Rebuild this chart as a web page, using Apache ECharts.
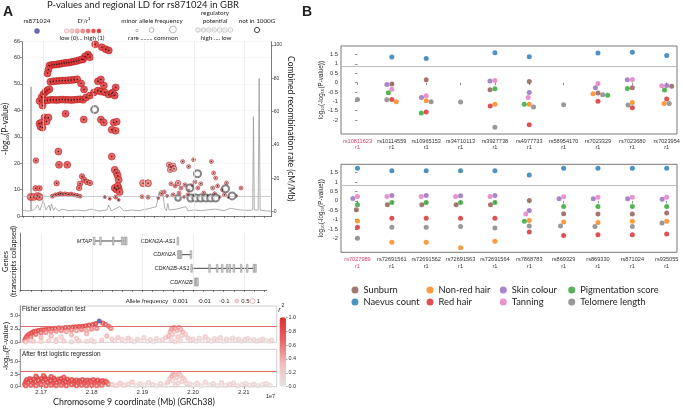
<!DOCTYPE html>
<html><head><meta charset="utf-8">
<script src="https://cdn.jsdelivr.net/npm/echarts@6/dist/echarts.min.js"></script>
<style>html,body{margin:0;padding:0;background:#fff}#c{width:683px;height:408px}</style>
</head><body><div id="c"></div><script>
// ---------- Panel A: regional association (pos Mb, -log10 P, r2, MAF) ----------
const ldPoints = [
 [21.8030,65.0,.95,.4],[21.8163,63.9,.95,.4],[21.8241,63.1,.95,.4],[21.8300,62.7,.95,.4],
 [21.7887,61.2,.95,.4],[21.7828,60.5,.95,.4],[21.7926,60.1,.95,.4],[21.7788,59.3,.95,.4],
 [21.7118,57.0,.95,.4],[21.7167,57.2,.95,.4],[21.7217,57.3,.95,.4],[21.7266,57.4,.95,.4],[21.7315,57.6,.95,.4],[21.7365,57.7,.95,.4],[21.7414,57.9,.95,.4],
 [21.7463,58.0,.95,.4],[21.7512,58.1,.95,.4],[21.7562,58.3,.95,.4],[21.7611,58.5,.95,.4],[21.7660,58.7,.95,.4],[21.7709,59.0,.95,.4],[21.7759,59.3,.95,.4],
 [21.7099,55.5,.9,.4],[21.7079,54.0,.9,.4],
 [21.7138,50.8,.9,.4],[21.7197,51.0,.9,.4],[21.7256,51.1,.9,.4],[21.7315,51.2,.9,.4],[21.7374,51.3,.9,.4],[21.7433,51.3,.9,.4],[21.7493,51.4,.9,.4],
 [21.7552,51.5,.9,.4],[21.7611,51.6,.9,.4],[21.7670,51.8,.9,.4],[21.7749,50.2,.9,.4],[21.7808,47.9,.9,.4],
 [21.6921,43.5,.9,.4],[21.6961,45.0,.9,.4],[21.7000,46.2,.9,.4],[21.7039,47.0,.9,.4],[21.7079,47.6,.9,.4],[21.7118,48.0,.9,.4],
 [21.7020,43.6,.9,.4],[21.7079,43.8,.9,.4],[21.7138,44.0,.9,.4],[21.7197,44.0,.9,.4],[21.7256,43.9,.9,.4],[21.7315,44.0,.9,.4],[21.7374,44.1,.9,.4],
 [21.7433,44.0,.9,.4],[21.7493,44.0,.9,.4],[21.7552,43.9,.9,.4],[21.7611,44.0,.9,.4],[21.7670,44.1,.9,.4],[21.7729,44.2,.9,.4],[21.7788,44.0,.9,.4],[21.6980,41.8,.85,.4],
 [21.7847,44.9,.9,.4],[21.7926,45.6,.9,.4],[21.8005,46.8,.9,.4],[21.8084,47.5,.9,.4],[21.8143,47.1,.9,.4],[21.8222,46.8,.9,.4],[21.8300,46.0,.9,.4],
 [21.8360,46.4,.9,.4],[21.8419,45.6,.9,.4],[21.8084,51.0,.9,.4],[21.8143,51.7,.9,.4],[21.8202,49.4,.9,.4],[21.8438,48.7,.9,.4],[21.8379,46.8,.9,.4],
 [21.7439,38.7,.85,.4],[21.7020,37.3,.8,.4],[21.7099,37.3,.8,.4],[21.7060,35.8,.8,.4],[21.7802,36.5,.8,.4],[21.8143,36.5,.8,.4],[21.8202,35.4,.8,.4],
 [21.6921,35.0,.8,.4],[21.6961,35.4,.8,.4],[21.6940,33.8,.8,.4],[21.6980,33.5,.8,.4],[21.8399,35.4,.8,.4],[21.8458,35.7,.8,.4],[21.8360,32.7,.8,.4],[21.8438,32.3,.8,.4],
 [21.7296,24.4,.7,.3],[21.8360,22.5,.7,.3],[21.6848,21.0,.6,.1],[21.7309,19.4,.7,.3],[21.7473,19.4,.7,.3],[21.8419,17.5,.7,.3],[21.8458,16.3,.7,.3],
 [21.8478,15.2,.7,.3],[21.8497,13.7,.7,.3],[21.7768,15.0,.6,.1],[21.7808,13.7,.6,.1],[21.7867,12.9,.6,.1],[21.7926,12.5,.6,.1],[21.7729,12.2,.6,.1],
 [21.7709,10.6,.6,.1],[21.7262,12.4,.6,.1],[21.6842,10.5,.6,.1],[21.6921,10.5,.6,.1],[21.8419,10.6,.8,.4],[21.8458,10.0,.8,.4],[21.8497,10.6,.8,.4],
 [21.8517,9.1,.7,.3],[21.8478,11.4,.8,.4],
 [21.6744,7.2,.6,.3],[21.6803,7.2,.6,.3],[21.6882,7.6,.6,.3],[21.6921,7.2,.6,.3],
 [21.7177,7.5,.5,.05],[21.7236,8.0,.5,.05],[21.7296,8.2,.5,.05],[21.7335,8.5,.5,.05],[21.7374,8.3,.5,.05],[21.7433,8.4,.5,.05],[21.7493,8.2,.5,.05],
 [21.7552,8.3,.5,.05],[21.7611,8.0,.5,.05],[21.7670,7.8,.5,.05],[21.7729,7.5,.5,.05],
 [21.8222,7.2,.4,.02],[21.8320,6.5,.4,.02],[21.8438,7.2,.5,.05],[21.8497,6.1,.4,.02],
 [21.8965,7.3,.3,.05],[21.9083,7.1,.3,.05],[21.8984,12.4,.5,.3],[21.9083,12.4,.5,.3],
 [21.9502,19.4,.4,.1],[21.9542,18.6,.4,.1],[21.9581,19.0,.4,.1],[21.9522,17.5,.4,.1],[21.9601,17.9,.4,.1],
 [21.9772,20.6,.3,.05],[21.9989,21.3,.3,.05],[21.9891,18.7,.3,.05],[22.0344,20.6,.3,.05],[22.0389,16.3,.3,.05],[22.0429,14.4,.3,.05],
 [21.9542,12.2,.3,.05],[21.9621,11.4,.3,.05],[21.9680,12.5,.4,.1],[21.9739,10.6,.3,.05],[21.9818,11.8,.3,.05],[21.9897,9.9,.3,.05],[21.9956,11.4,.3,.05],
 [22.0015,12.9,.3,.05],[22.0074,10.6,.3,.05],[22.0133,12.2,.3,.05],[22.0369,10.6,.3,.05],[22.0468,11.4,.3,.05],[22.0567,9.9,.3,.05],[22.0645,12.5,.3,.05],
 [21.9286,6.8,.2,.02],[21.9345,8.4,.3,.05],[21.9404,9.1,.3,.05],[21.9463,7.6,.2,.02],[21.9581,8.0,.3,.05],[21.9700,8.7,.3,.05],[21.9798,7.2,.2,.02],
 [21.9877,8.0,.3,.05],[21.9995,7.6,.3,.05],[22.0192,8.7,.3,.05],[22.0271,7.6,.2,.02],[22.0409,8.4,.3,.05],[22.0507,7.2,.2,.02],[22.0606,8.0,.3,.05],
 [22.0685,7.2,.2,.02],[22.0935,10.6,.3,.05],[22.0842,7.6,.2,.02]
];
// SNPs not in 1000G (pos, -log10 P, MAF)
const notIn1000G = [
 [21.8019,40.3,.3],[22.0068,16.0,.3],[21.9916,10.6,.3],[22.0626,10.3,.3],[22.0758,7.6,.3],[21.9680,6.8,.2],[21.9936,6.8,.3],
 [22.0034,6.8,.3],[22.0133,6.8,.3],[22.0232,6.8,.3],[22.0330,6.8,.3],[22.0429,6.8,.3]
];
// combined recombination rate (cM/Mb)
const recombPos  = [21.6572,21.6620,21.6680,21.6748,21.6752,21.6756,21.6800,21.6840,21.6882,21.6930,21.6994,21.7050,21.7112,21.7135,21.7158,21.7200,21.7231,21.7300,21.7374,21.7500,21.7670,21.7800,21.7966,21.8100,21.8261,21.8300,21.8350,21.8517,21.8600,21.8754,21.8900,21.9050,21.9246,21.9280,21.9305,21.9345,21.9384,21.9414,21.9450,21.9477,21.9502,21.9640,21.9837,21.9877,22.0000,22.0133,22.0300,22.0429,22.0600,22.0724,22.0921,22.1118,22.1167,22.1183,22.1200,22.1276,22.1296,22.1315,22.1414,22.1546];
const recombRate = [0.5,1.0,0.3,0.5,75,0.6,1.0,2.0,4.0,0.8,7.0,1.0,4.0,0.6,4.5,0.8,2.5,0.5,1.5,0.6,1.0,0.5,1.5,0.4,1.0,4.0,0.5,3.0,0.4,1.0,0.6,1.5,3.0,8.0,12.0,13.0,10.0,2.0,0.6,5.0,1.0,1.5,3.0,0.5,1.0,0.6,1.2,1.5,0.6,2.0,1.0,0.8,1.0,57,1.0,1.0,80,1.0,0.5,0.3];
// genes (collapsed transcripts)
const geneNames = ['MTAP','CDKN2A-AS1','CDKN2A','CDKN2B-AS1','CDKN2B'];
const geneStart = [21.8044,21.9690,21.9696,21.9966,22.0030];
const geneEnd   = [21.8685,21.9702,21.9960,22.1227,22.0089];
const geneRow   = [4,4,3,2,1];
const geneExons = [[21.8050,21.8172,21.8423,21.8600,21.8645,21.8680],[21.9696],[21.9705,21.9735,21.9760,21.9955],
 [21.9966,22.0320,22.0471,22.0571,22.0668,22.0720,22.0800,22.0945,22.1063,22.1193,22.1227],[22.0035,22.0060,22.0085]];
// Fisher association test (pos Mb, -log10 P, r2)
const fisherPoints = [
 [21.668,0.4,.7],[21.670,0.8,.8],[21.672,1.1,.8],[21.675,1.4,.85],[21.678,1.6,.85],[21.682,1.8,.9],[21.686,2.0,.9],[21.690,2.1,.9],[21.695,2.2,.9],
 [21.700,2.3,.9],[21.705,2.35,.9],[21.710,2.4,.9],[21.716,2.5,.9],[21.722,2.55,.9],[21.728,2.6,.9],[21.735,2.7,.9],[21.742,2.65,.9],[21.748,2.75,.9],
 [21.755,2.8,.9],[21.762,2.85,.9],[21.768,2.9,.95],[21.775,2.95,.95],[21.782,3.0,.95],[21.788,3.1,.95],[21.795,3.2,.95],[21.802,3.3,.95],[21.808,3.5,.95],
 [21.822,3.6,.9],[21.828,3.3,.8],[21.834,3.0,.7],[21.838,2.6,.6],
 [21.675,0.6,.6],[21.680,1.0,.7],[21.690,1.5,.7],[21.700,1.8,.7],[21.710,1.9,.6],[21.720,2.0,.6],[21.730,2.1,.6],[21.740,2.2,.6],[21.750,2.0,.5],
 [21.760,2.3,.6],[21.770,2.2,.5],[21.780,2.4,.6],[21.790,2.2,.5],[21.800,2.5,.6],[21.810,2.6,.6],[21.720,1.2,.4],[21.740,1.0,.3],[21.760,1.4,.4],
 [21.700,0.9,.4],[21.680,0.3,.3],[21.730,0.5,.3],[21.770,0.7,.3],[21.790,1.6,.4],[21.830,1.2,.4],[21.800,0.4,.2],[21.840,0.6,.3],
 [21.670,0.1,.3],[21.685,0.2,.3],[21.700,0.1,.2],[21.715,0.3,.3],[21.730,0.15,.2],[21.745,0.25,.3],[21.760,0.1,.2],[21.775,0.3,.3],[21.790,0.2,.2],[21.805,0.1,.2],[21.820,0.4,.3],
 [21.845,0.3,.2],[21.852,0.9,.3],[21.860,0.5,.2],[21.866,0.2,.1],[21.872,0.8,.3],[21.878,0.4,.2],[21.884,0.1,.1],[21.890,0.6,.2],[21.897,0.3,.1],
 [21.903,0.9,.2],[21.910,0.2,.1],[21.916,0.5,.2],[21.922,0.1,.1],[21.928,0.7,.2],[21.934,0.3,.1],[21.940,0.5,.2],[21.946,0.9,.3],
 [21.952,1.2,.4],[21.955,2.0,.4],[21.958,2.5,.5],[21.962,2.8,.5],[21.965,2.6,.5],[21.968,2.2,.4],[21.972,2.8,.5],[21.976,2.4,.4],[21.980,1.9,.4],
 [21.985,1.5,.3],[21.960,1.5,.3],[21.970,1.0,.3],[21.978,1.3,.3],[21.990,0.8,.3],[21.957,0.5,.2],[21.975,0.3,.2],[21.965,0.1,.2],
 [21.995,0.4,.2],[22.000,0.6,.2],[22.006,0.2,.1],[22.012,0.8,.2],[22.018,0.3,.1],[22.024,1.0,.3],[22.030,0.5,.2],[22.036,0.2,.1],[22.042,0.7,.2],
 [22.048,0.4,.2],[22.054,0.9,.2],[22.060,0.2,.1],[22.066,0.6,.2],[22.072,0.3,.1],[22.078,0.8,.2],[22.084,0.4,.1],[22.090,0.6,.2],[22.096,0.2,.1],
 [22.102,0.5,.2],[22.108,0.7,.2],[22.114,0.3,.1],[22.120,0.5,.2],[22.126,0.2,.1],[22.132,0.4,.2],[22.138,0.6,.2],[22.144,0.3,.1],[22.150,0.2,.1],[22.155,0.4,.2]
];
const fisherLead = [[21.815,4.0]];
// After first logistic regression (pos Mb, -log10 P, r2)
const condPoints = [
 [21.668,0.5,.9],[21.670,1.0,.9],[21.672,1.4,.95],[21.675,0.8,.9],[21.678,1.6,.95],[21.680,1.2,.9],[21.683,0.6,.9],[21.686,1.5,.95],[21.689,1.0,.9],
 [21.692,1.8,.95],[21.695,1.3,.9],[21.698,0.7,.9],[21.701,1.6,.95],[21.704,1.1,.9],[21.707,1.9,.95],[21.710,1.4,.9],[21.713,0.9,.9],[21.716,1.5,.95],
 [21.719,1.2,.9],[21.722,0.6,.9],[21.725,1.7,.95],[21.728,1.3,.9],[21.731,0.8,.9],[21.734,1.5,.9],[21.737,1.1,.9],[21.740,1.6,.95],[21.743,0.7,.9],
 [21.746,1.3,.9],[21.749,1.0,.9],[21.752,1.5,.9],[21.755,0.9,.9],[21.758,1.2,.9],[21.761,1.4,.9],[21.764,0.6,.9],[21.767,1.1,.9],[21.770,1.3,.9],
 [21.773,0.8,.9],[21.776,1.2,.9],[21.779,1.0,.9],[21.782,1.4,.9],[21.785,0.7,.8],[21.788,1.1,.9],[21.791,1.3,.9],[21.794,0.9,.8],[21.797,1.2,.9],
 [21.800,1.0,.8],[21.803,1.4,.9],[21.806,0.8,.8],[21.809,1.1,.9],[21.812,1.3,.9],[21.815,0.6,.8],[21.818,1.0,.9],[21.821,1.2,.9],[21.824,0.8,.8],
 [21.827,1.1,.9],[21.830,0.9,.8],[21.833,0.5,.7],
 [21.670,0.2,.8],[21.680,0.3,.8],[21.690,0.2,.8],[21.700,0.4,.8],[21.710,0.2,.8],[21.720,0.3,.8],[21.730,0.2,.8],[21.740,0.3,.8],[21.750,0.2,.8],
 [21.760,0.4,.8],[21.770,0.2,.8],[21.780,0.3,.8],[21.790,0.2,.8],[21.800,0.3,.8],[21.810,0.2,.7],[21.820,0.3,.7],
 [21.690,2.1,.9],[21.720,2.0,.9],[21.745,1.9,.9],[21.705,2.2,.9],
 [21.840,0.4,.3],[21.848,0.2,.2],[21.856,0.7,.3],[21.864,0.3,.2],[21.872,0.5,.2],[21.880,0.9,.3],[21.888,0.2,.1],[21.896,0.6,.2],[21.904,0.3,.1],
 [21.912,0.8,.2],[21.920,0.4,.2],[21.928,0.2,.1],[21.936,0.6,.2],[21.944,0.3,.1],
 [21.950,0.9,.3],[21.954,1.6,.3],[21.958,2.1,.4],[21.961,2.5,.4],[21.964,2.3,.4],[21.968,1.8,.3],[21.972,2.6,.4],[21.976,2.2,.3],[21.980,1.7,.3],
 [21.984,1.3,.3],[21.960,1.2,.2],[21.970,0.7,.2],[21.978,1.0,.2],[21.988,0.6,.2],[21.965,0.3,.2],
 [21.994,0.5,.2],[22.000,0.3,.1],[22.008,0.7,.2],[22.016,0.2,.1],[22.024,0.9,.2],[22.032,0.4,.1],[22.040,0.6,.2],[22.048,0.2,.1],[22.056,0.8,.2],
 [22.064,0.3,.1],[22.072,0.5,.2],[22.080,0.7,.2],[22.088,0.2,.1],[22.096,0.4,.1],[22.104,0.6,.2],[22.112,0.3,.1],[22.120,0.5,.2],[22.128,0.2,.1],
 [22.136,0.4,.1],[22.144,0.6,.2],[22.152,0.3,.1]
];
// ---------- Panel B ----------
const catsTop = ['rs10811623','rs10114559','rs10965153','rs34710113','rs3927738','rs4977733','rs58954170','rs7023329','rs7023680','rs7023954'];
const catsBot = ['rs7027989','rs72691561','rs72691562','rs72691563','rs72691564','rs7868783','rs869329','rs869330','rs871024','rs935055'];
const traitNames  = ['Sunburn','Naevus count','Non-red hair','Red hair','Skin colour','Tanning','Pigmentation score','Telomere length'];
const traitColors = ['#8c564b','#1f77b4','#ff7f0e','#d62728','#9467bd','#e377c2','#2ca02c','#7f7f7f'];
const sunburnTop   = [null,-0.08,0.15,null,-0.38,0.06,null,-0.56,-0.28,-0.19];
const naevusTop    = [null,1.37,1.28,null,1.59,1.38,null,1.58,1.62,1.44];
const nonRedTop    = [null,-1.02,-0.97,null,-1.16,-1.16,null,-0.60,-1.06,-1.11];
const redHairTop   = [null,-0.90,-1.57,null,-1.25,-2.25,null,-1.00,-1.34,-0.88];
const skinTop      = [null,-0.10,-0.79,null,0.09,-0.53,null,-0.28,0.15,-0.16];
const tanningTop   = [null,-0.35,-0.70,null,0.11,-0.79,null,-0.05,0.16,-0.17];
const pigmentTop   = [null,-0.54,-1.62,null,-0.33,-1.16,null,-0.68,-0.31,-0.40];
const telomereTop  = [-0.90,-0.91,-1.02,-1.04,-2.38,-1.30,-1.18,-0.65,-1.19,-1.11];
const sunburnBot   = [-0.47,-0.21,-0.21,-0.21,-0.21,0.02,-0.69,-0.70,-0.70,-0.65];
const naevusBot    = [1.74,1.61,1.61,1.61,1.61,1.38,1.74,1.74,1.74,1.74];
const nonRedBot    = [-1.07,-2.21,-2.21,-2.50,-2.15,-1.04,-1.13,-1.15,-1.09,-1.09];
const redHairBot   = [-1.41,-0.93,-0.93,-0.93,-0.93,-1.66,-1.85,-1.80,-1.81,-1.76];
const skinBot      = [0.13,0.29,0.29,0.27,0.29,-0.51,0.11,0.11,0.11,0.09];
const tanningBot   = [0.23,0.23,0.24,0.23,0.23,-0.70,0.22,0.20,0.20,0.20];
const pigmentBot   = [-0.21,-0.09,-0.08,-0.09,-0.09,-1.09,-0.30,-0.30,-0.30,-0.30];
const telomereBot  = [-1.99,-1.41,-1.41,-1.37,-1.44,-1.34,-1.34,-1.36,-1.37,-1.18];
const topVals = [sunburnTop,naevusTop,nonRedTop,redHairTop,skinTop,tanningTop,pigmentTop,telomereTop];
const botVals = [sunburnBot,naevusBot,nonRedBot,redHairBot,skinBot,tanningBot,pigmentBot,telomereBot];
const yTicksB = [-2,-1.5,-1,-0.5,0,0.5,1,1.5];
const sigLineB = Math.log10(-Math.log10(5e-8));

// ---------- build ----------
const FONT = 'Liberation Sans, Arial, sans-serif';
const FONT2 = 'Lato, Open Sans, sans-serif';
const chart = echarts.init(document.getElementById('c'));
const range = (a,b,s)=>{const r=[];for(let k=0;a+k*s<=b+1e-9;k++)r.push(+(a+k*s).toFixed(4));return r;};
const mbTicks = range(21.66,22.16,0.02);
const mbMajor = [21.7,21.8,21.9,22.0,22.1];
const mafSize = m => m>=0.3?7:(m>=0.1?5.5:(m>=0.05?4:3));

function swarm(vals, pxPerUnit, d){
  const offs = vals.map(()=>new Array(vals[0].length).fill(0));
  for(let c=0;c<vals[0].length;c++){
    const pts=[]; vals.forEach((arr,t)=>{ if(arr[c]!=null) pts.push({t,y:arr[c]*pxPerUnit}); });
    pts.sort((a,b)=>b.y-a.y);
    const placed=[];
    pts.forEach(p=>{
      const cands=[0];
      placed.forEach(q=>{const dy=p.y-q.y; if(Math.abs(dy)<d){const dx=Math.sqrt(d*d-dy*dy); cands.push(q.x+dx,q.x-dx);} });
      cands.sort((a,b)=>Math.abs(a)-Math.abs(b)||a-b);
      let x=0;
      for(const cx of cands){ if(placed.every(q=>(cx-q.x)**2+(p.y-q.y)**2>=d*d-1e-6)){x=cx;break;} }
      placed.push({x,y:p.y}); offs[p.t][c]=x;
    });
  }
  return offs;
}
const pxB = 88/(1.95+2.74);
const offTop = swarm(topVals, pxB, 5);
const offBot = swarm(botVals, pxB, 5);

const small = {fontFamily:FONT,fontSize:5.5,color:'#333'};
const axLine = {show:true,lineStyle:{color:'#444',width:0.7}};
const noShow = {show:false};

const grid = [
 {left:19.3, top:41.7, width:252.4, height:174.3},
 {left:20, top:233, width:246.7, height:57},
 {left:20, top:306, width:256.7, height:36.3, show:true, borderColor:'#c4c4c4', borderWidth:0.8},
 {left:20, top:349.3, width:256.7, height:37.4, show:true, borderColor:'#c4c4c4', borderWidth:0.8},
 {left:341, top:46, width:336, height:88, show:true, borderColor:'#555', borderWidth:0.8},
 {left:341, top:164.3, width:336, height:88, show:true, borderColor:'#555', borderWidth:0.8},
 {left:286, top:317.3, width:0.5, height:69.4}
];
const mbAxis = (gi,min,max,extra)=>Object.assign({type:'value',gridIndex:gi,min,max,axisLine:axLine,
  axisTick:{show:true,customValues:mbTicks.filter(v=>v>=min&&v<=max),length:2,lineStyle:{color:'#444',width:0.6}},
  axisLabel:{show:false},splitLine:noShow},extra||{});
const catFmt = cats => v => { const i=Math.round(v); return i===0 ? '{hl|'+cats[i]+'}\n{hl|r1}' : cats[i]+'\nr1'; };
const bX = (gi,cats)=>({type:'value',gridIndex:gi,min:-0.48,max:9.3,axisLine:noShow,
  axisTick:{show:true,customValues:range(0,9,1),length:2.5,lineStyle:{color:'#444',width:0.6}},
  axisLabel:{customValues:range(0,9,1),formatter:catFmt(cats),fontFamily:FONT,fontSize:5.6,color:'#333',lineHeight:6.5,margin:4,
    rich:{hl:{color:'#d9436d',fontFamily:FONT,fontSize:5.6,lineHeight:6.5}}},splitLine:noShow});
const bY = gi=>({type:'value',gridIndex:gi,min:-2.74,max:1.95,axisLine:noShow,
  axisTick:{show:true,customValues:yTicksB,length:2.5,lineStyle:{color:'#444',width:0.6}},
  axisLabel:{customValues:yTicksB,formatter:v=>String(v),fontFamily:FONT,fontSize:5.8,color:'#333',margin:3},splitLine:noShow,
  name:'log\u2081\u2080(-log\u2081\u2080(P-value))',nameLocation:'middle',nameGap:15,nameTextStyle:{fontFamily:FONT,fontSize:6.3,color:'#222'}});

const xAxis = [
 mbAxis(0,21.6572,22.1546),
 mbAxis(1,21.6586,22.1447),
 mbAxis(2,21.6586,22.1650,{axisLine:noShow,axisTick:noShow}),
 mbAxis(3,21.6586,22.1650,{axisLine:noShow,axisTick:{show:true,customValues:mbMajor,length:2,lineStyle:{color:'#444',width:0.6}},
   axisLabel:{show:true,customValues:mbMajor,formatter:v=>(v/10).toFixed(2),fontFamily:FONT,fontSize:6,color:'#333',margin:3}}),
 bX(4,catsTop), bX(5,catsBot),
 {type:'value',gridIndex:6,show:false,min:0,max:1}
];
const yAxis = [
 {type:'value',gridIndex:0,min:0,max:66,interval:10,axisLine:axLine,axisTick:{length:2,lineStyle:{color:'#444',width:0.6}},
  axisLabel:Object.assign({margin:2},small),splitLine:{show:true,lineStyle:{color:'#f1f1f1',width:0.6}},
  name:'-log\u2081\u2080(P-value)',nameLocation:'middle',nameGap:10,nameTextStyle:{fontFamily:FONT2,fontSize:8.5,color:'#222'}},
 {type:'value',gridIndex:0,position:'right',min:-2.6,max:102,axisLine:axLine,
  axisTick:{customValues:[0,20,40,60,80,100],length:2,lineStyle:{color:'#444',width:0.6}},
  axisLabel:Object.assign({customValues:[0,20,40,60,80,100],margin:2},small,{fontSize:5}),splitLine:noShow,
  name:'Combined recombination rate (cM/Mb)',nameLocation:'middle',nameRotate:-90,nameGap:14,nameTextStyle:{fontFamily:FONT2,fontSize:8.5,color:'#222'}},
 {type:'value',gridIndex:1,min:0.415,max:4.585,axisLine:axLine,axisTick:noShow,axisLabel:noShow,splitLine:noShow,
  name:'Genes\n(transcripts collapsed)',nameLocation:'middle',nameGap:2,nameTextStyle:{fontFamily:FONT2,fontSize:7.5,color:'#222',lineHeight:8.5}},
 {type:'value',gridIndex:2,min:0,max:6.8,axisLine:{show:true,lineStyle:{color:'#777',width:0.7}},
  axisTick:{customValues:[0,2.5,5],length:2,lineStyle:{color:'#444',width:0.6}},
  axisLabel:Object.assign({customValues:[0,2.5,5],formatter:v=>v.toFixed(1),margin:2},small),splitLine:noShow},
 {type:'value',gridIndex:3,min:0,max:7.4,axisLine:{show:true,lineStyle:{color:'#777',width:0.7}},
  axisTick:{customValues:[0,2.5,5],length:2,lineStyle:{color:'#444',width:0.6}},
  axisLabel:Object.assign({customValues:[0,2.5,5],formatter:v=>v.toFixed(1),margin:2},small),splitLine:noShow},
 bY(4), bY(5),
 {type:'value',gridIndex:6,position:'right',min:0,max:1,interval:0.2,axisLine:noShow,
  axisTick:{show:true,length:1.5,lineStyle:{color:'#444',width:0.5}},
  axisLabel:Object.assign({formatter:v=>v.toFixed(1),margin:2},small),splitLine:noShow}
];

const series = [];
series.push({type:'scatter',xAxisIndex:0,yAxisIndex:0,data:ldPoints,symbolSize:v=>mafSize(v[3]),
  itemStyle:{borderColor:'rgba(170,25,25,0.85)',borderWidth:0.7,opacity:0.9},z:4,silent:true,
  markLine:{silent:true,symbol:'none',label:noShow,animation:false,
    data:mbMajor.map(v=>({xAxis:v,lineStyle:{color:'#e8e8e8',width:0.7,type:'solid'}})).concat([{yAxis:7.3,lineStyle:{color:'#b8b8b8',width:0.7,type:'solid'}}])}});
series.push({type:'scatter',xAxisIndex:0,yAxisIndex:0,data:ldPoints.map(p=>[p[0],p[1]]),symbolSize:1.6,itemStyle:{color:'#111'},z:5,silent:true});
series.push({type:'scatter',xAxisIndex:0,yAxisIndex:0,data:notIn1000G,symbol:'emptyCircle',symbolSize:v=>mafSize(v[2]),
  itemStyle:{color:'#666',borderWidth:0.55},z:4,silent:true});
series.push({type:'line',xAxisIndex:0,yAxisIndex:1,data:recombPos.map((p,i)=>[p,recombRate[i]]),symbol:'none',
  lineStyle:{color:'#9a9a9a',width:0.8},z:2,silent:true,animation:false});
series.push({type:'custom',xAxisIndex:1,yAxisIndex:2,data:geneNames.map((n,i)=>[geneStart[i],geneEnd[i],geneRow[i]]),silent:true,
  renderItem:(params,api)=>{
    const i=params.dataIndex; const row=api.value(2);
    const p1=api.coord([api.value(0),row]); const p2=api.coord([api.value(1),row]);
    const ch=[{type:'line',shape:{x1:p1[0],y1:p1[1],x2:p2[0],y2:p2[1]},style:{stroke:'#111',lineWidth:0.8}}];
    geneExons[i].forEach(e=>{const c=api.coord([e,row]); ch.push({type:'rect',shape:{x:c[0]-0.8,y:c[1]-4,width:1.6,height:8},style:{fill:'#d0d0d0',stroke:'#8a8a8a',lineWidth:0.5}});});
    ch.push({type:'text',style:{text:geneNames[i],x:p1[0]-2,y:p1[1],align:'right',verticalAlign:'middle',textAlign:'right',textVerticalAlign:'middle',
      font:'italic 5.6px '+FONT,fill:'#222'}});
    return {type:'group',children:ch};
  },
  markLine:{silent:true,symbol:'none',label:noShow,animation:false,data:mbMajor.map(v=>({xAxis:v})),lineStyle:{color:'#e6e6e6',width:0.7,type:'solid'}}});
const redLine = {silent:true,symbol:'none',label:noShow,animation:false,data:[{yAxis:3}],lineStyle:{color:'#e06a6a',width:1,type:'solid'}};
series.push({type:'scatter',xAxisIndex:2,yAxisIndex:3,data:fisherPoints,symbol:'emptyCircle',symbolSize:3.2,itemStyle:{borderWidth:0.6},silent:true,z:3,markLine:redLine});
series.push({type:'scatter',xAxisIndex:2,yAxisIndex:3,data:fisherLead,symbolSize:5,itemStyle:{color:'#4a4aa6'},silent:true,z:6});
series.push({type:'scatter',xAxisIndex:3,yAxisIndex:4,data:condPoints,symbol:'emptyCircle',symbolSize:3.2,itemStyle:{borderWidth:0.7},silent:true,z:3,markLine:redLine});
traitNames.forEach((name,t)=>{
  [[topVals,4,5,offTop],[botVals,5,6,offBot]].forEach(([vals,xi,yi,offs])=>{
    const s={type:'scatter',name,xAxisIndex:xi,yAxisIndex:yi,symbolSize:5,itemStyle:{color:traitColors[t]},z:5,silent:true,
      data:vals[t].map((v,i)=>v==null?null:{value:[i,v],symbolOffset:[offs[t][i],0]}).filter(d=>d)};
    if(t===0) s.markLine={silent:true,symbol:'none',label:noShow,animation:false,data:[{yAxis:sigLineB}],lineStyle:{color:'#bdbdbd',width:1,type:'solid'}};
    series.push(s);
  });
});

const legendCols = [['Sunburn','Naevus count'],['Non-red hair','Red hair'],['Skin colour','Tanning'],['Pigmentation score','Telomere length']];
const legendLeft = [351.5,426.5,499.8,568.2];
const legend = legendCols.map((names,i)=>({data:names,orient:'vertical',left:legendLeft[i],top:285.5,itemWidth:7,itemHeight:7,itemGap:3,
  icon:'circle',padding:0,selectedMode:false,textStyle:{fontFamily:FONT2,fontSize:9.3,color:'#222',lineHeight:9}}));

const visualMap = [
 {type:'continuous',seriesIndex:[0],dimension:2,min:0,max:1,show:false,inRange:{color:['#f9e2e2','#f2aaaa','#e85e5e','#e03a3a']}},
 {type:'continuous',seriesIndex:[5,7],dimension:2,min:0,max:1,show:true,left:279.5,top:317.3,itemWidth:6.5,itemHeight:69.4,padding:0,
  calculable:false,hoverLink:false,text:null,textStyle:{fontSize:1,color:'rgba(0,0,0,0)'},inRange:{color:['#e4e4e4','#f3bcbc','#ea6464','#dd2f2f']}}
];

const T=(text,x,y,size,o={})=>({type:'text',x,y,rotation:o.rot||0,silent:true,z:10,
  style:{text,x:0,y:0,font:(o.it?'italic ':'')+(o.bold?'bold ':'')+size+'px '+(o.family||FONT),fill:o.color||'#222',
    align:o.align||'center',verticalAlign:'middle',textAlign:o.align||'center',textVerticalAlign:'middle'}});
const C=(cx,cy,r,fill,stroke,lw)=>({type:'circle',silent:true,z:10,shape:{cx,cy,r},style:{fill,stroke,lineWidth:lw||0.5}});
const ldCols=['#fbe4e4','#f7cccc','#f3b0b0','#ee9090','#ea7070','#e45050','#dd3535'];
const graphic=[
 T('A',8,12,14,{bold:true}), T('B',307,12,14,{bold:true}),
 T('P-values and regional LD for rs871024 in GBR',143,5,9.5,{family:FONT2}),
 T('rs871024',37,20.5,6.3,{family:FONT2}), C(37,31,2.5,'#6b6bbb','#55559a'),
 T("D'/r\u00b2",84,20.5,6.3,{family:FONT2}),
 ...ldCols.map((c,i)=>C(66.5+i*5.4,31,2.2,c,'#d08080',0.4)),
 T('low (0)... high (1)',82,37.5,6.3,{family:FONT2}),
 T('minor allele frequency',152,20.5,6.3,{family:FONT2}),
 C(137,30.5,1.2,'#fff','#888',0.6), C(151.5,30,2.4,'#fff','#888',0.6), C(173,29.5,3.4,'#fff','#888',0.6),
 T('rare ........ common',153,37.5,6.3,{family:FONT2}),
 T('regulatory',215,12.8,6.3,{family:FONT2}), T('potential',215,20.5,6.3,{family:FONT2}),
 ...[0,1,2,3,4,5,6].map(i=>C(198+i*5.4,30,2.3,'#fff','#999',0.5)),
 ...[0,1,2,3,4,5,6].map(i=>C(198+i*5.4,30,1.3-i*0.15,'#fff','#bbb',0.4)),
 T('high .... low',216,37.5,6.3,{family:FONT2}),
 T('not in 1000G',257,20.5,6.3,{family:FONT2}), C(257,30,2.6,'#fff','#111',0.8),
 T('Allele frequency',147,301,6,{}), T('0.001',180.5,301,6,{}),
 C(198.5,301,0.5,'#e8a0a0','#e8a0a0',0.3), T('0.01',205,301,6,{}),
 C(220,301,0.8,'#fff','#e08888',0.4), T('0.1',225.5,301,6,{}),
 C(236.8,301,1.8,'#f6d0d0','#e08888',0.5), T('0.5',245.5,301,6,{}),
 C(252.5,301,2.6,'#fff','#e08888',0.6), T('1',258.3,301,6,{}),
 T('Fisher association test',22,309.5,6.4,{align:'left'}),
 T('After first logistic regression',22,354.5,6.4,{align:'left'}),
 T('-log\u2081\u2080(P-value)',5.5,346,7.5,{rot:Math.PI/2}),
 T('1e7',270.5,396,5.5,{}),
 T('Chromosome 9 coordinate (Mb) (GRCh38)',134,402.5,8.8,{family:FONT2}),
 T('r',279.5,310,7,{it:true}), T('2',283,305.5,5,{})
];

chart.setOption({animation:false,backgroundColor:'#fff',grid,xAxis,yAxis,series,legend,visualMap,graphic});
</script></body></html>
